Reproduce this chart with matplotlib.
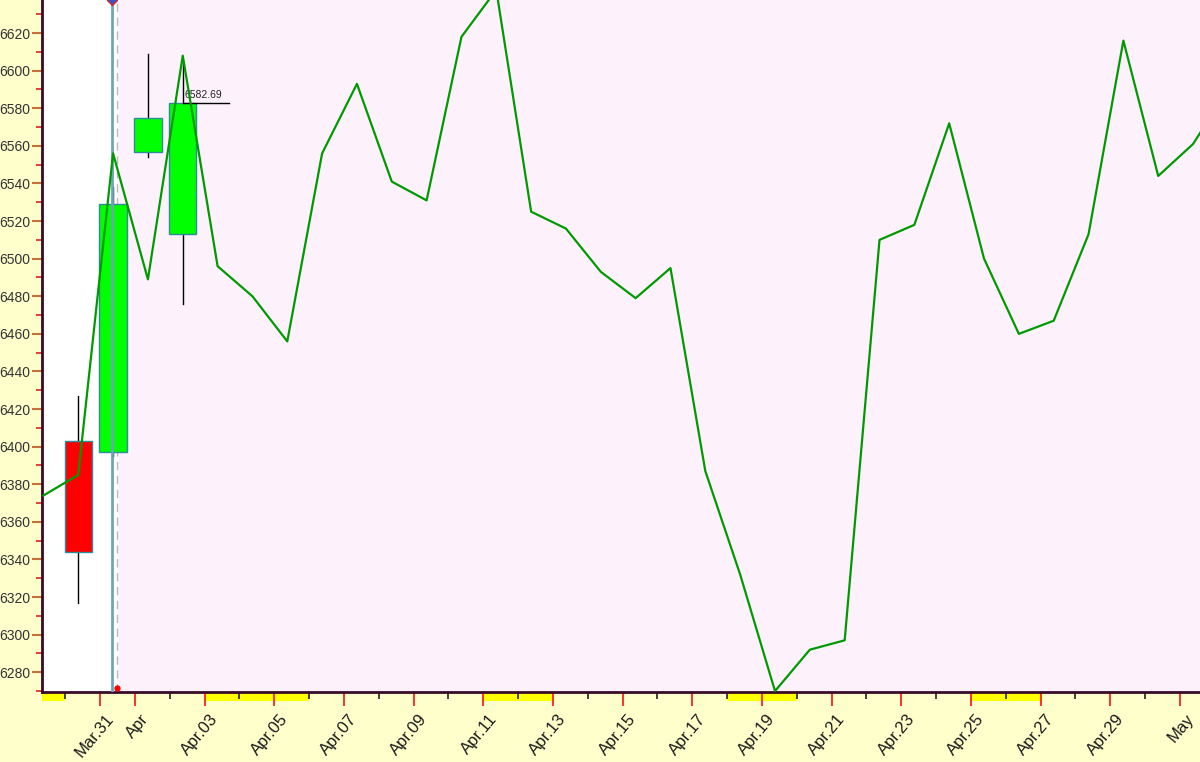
import datetime as dt
import matplotlib
matplotlib.use("Agg")
import matplotlib.pyplot as plt
import matplotlib.dates as mdates
import matplotlib.transforms as mtransforms
from matplotlib import font_manager

# cierre diario (a las 09:00) desde Mar.29 hasta May.02
fechas_linea = [dt.datetime(2018, 3, 29, 9) + dt.timedelta(days=i) for i in range(35)]
valores_linea = [6374, 6385, 6556, 6489, 6608, 6496, 6480, 6456, 6556, 6593,
                 6541, 6531, 6618, 6643, 6525, 6516, 6493, 6479, 6495, 6387,
                 6332, 6270, 6292, 6297, 6510, 6518, 6572, 6500, 6460, 6467,
                 6513, 6616, 6544, 6561, 6590]

# velas
fechas_velas = [dt.datetime(2018, 3, 30, 9), dt.datetime(2018, 3, 31, 9),
                dt.datetime(2018, 4, 1, 9), dt.datetime(2018, 4, 2, 9)]
apertura = [6403, 6397, 6557, 6513]
cierre = [6344, 6529, 6575, 6582.69]
maximo = [6427, 6538, 6609, 6605]
minimo = [6317, 6395, 6554, 6476]

# tramos amarillos bajo el eje
tramos = [(dt.datetime(2018, 3, 29), dt.datetime(2018, 3, 30)),
          (dt.datetime(2018, 4, 3), dt.datetime(2018, 4, 6)),
          (dt.datetime(2018, 4, 11), dt.datetime(2018, 4, 13)),
          (dt.datetime(2018, 4, 18), dt.datetime(2018, 4, 20)),
          (dt.datetime(2018, 4, 25), dt.datetime(2018, 4, 27))]

etiquetas_x = ["Mar.31", "Apr", "Apr.03", "Apr.05", "Apr.07", "Apr.09", "Apr.11",
               "Apr.13", "Apr.15", "Apr.17", "Apr.19", "Apr.21", "Apr.23",
               "Apr.25", "Apr.27", "Apr.29", "May"]
fechas_etiquetas = [dt.datetime(2018, 3, 31), dt.datetime(2018, 4, 1)] + \
    [dt.datetime(2018, 4, d) for d in range(3, 30, 2)] + [dt.datetime(2018, 5, 1)]
naranjas = ["Mar.31", "Apr.03", "Apr.09", "Apr.13", "Apr.25", "May"]

linea_vertical = dt.datetime(2018, 3, 31, 8)
linea_punteada = dt.datetime(2018, 3, 31, 11, 45)
ultimo_precio = 6582.69

plt.rcParams['font.family'] = ['Liberation Sans', 'DejaVu Sans']

# las cifras del eje y son estrechas, si no hay fuente narrow se reduce el tamaño
nombres = {f.name for f in font_manager.fontManager.ttflist}
if 'Liberation Sans Narrow' in nombres:
    fuente_y, tam_y = 'Liberation Sans Narrow', 11
else:
    fuente_y, tam_y = 'Liberation Sans', 10

fig = plt.figure(figsize=(12, 7.62), dpi=100)
fig.patch.set_facecolor('#FFFFCC')
ax = fig.add_axes([42 / 1200, 70 / 762, 1158 / 1200, 692 / 762])
ax.set_facecolor('#FDF2FB')

x0 = dt.datetime(2018, 3, 29, 8, 2)
x1 = dt.datetime(2018, 5, 1, 13, 47)
ax.set_xlim(x0, x1)
ax.set_ylim(6269.5, 6637.6)

# zona blanca a la izquierda
ax.axvspan(x0, linea_punteada, color='white', zorder=0)

# velas
ancho = 0.78
for f, o, c, h, l in zip(fechas_velas, apertura, cierre, maximo, minimo):
    xc = mdates.date2num(f)
    ax.plot([xc, xc], [l, h], color='black', linewidth=1, zorder=2)
    color = '#00FF00' if c >= o else '#FF0000'
    ax.add_patch(plt.Rectangle((xc - ancho / 2, min(o, c)), ancho, abs(c - o),
                               facecolor=color, edgecolor='#2E8B9A', linewidth=1, zorder=3))

# marca del ultimo precio
xu = mdates.date2num(fechas_velas[-1])
ax.plot([xu, xu + 1.32], [ultimo_precio, ultimo_precio], color='black', linewidth=1, zorder=4)
ax.text(xu + 0.05, ultimo_precio + 1.5, f"{ultimo_precio:.2f}", fontsize=7.5, color='#222222',
        ha='left', va='bottom', zorder=4)

# lineas verticales
ax.axvline(linea_vertical, color='#6FA3B5', linewidth=2, zorder=5)
ax.axvline(linea_punteada, color='#BBBBBB', linewidth=1, linestyle=(0, (6, 4)), zorder=1)
ax.plot([linea_punteada], [6271.5], marker='o', markersize=3.5, color='red', zorder=6, clip_on=False)
ax.plot([linea_vertical], [6637.6], marker='D', markersize=5, color='#3355CC',
        markeredgecolor='#DD2222', zorder=6, clip_on=False)

# linea principal
ax.plot(fechas_linea, valores_linea, color='#009A00', linewidth=1.6, zorder=5)

# tramos amarillos
trans = mtransforms.blended_transform_factory(ax.transData, ax.transAxes)
for a, b in tramos:
    ax.add_patch(plt.Rectangle((mdates.date2num(max(a, x0)), -0.0125),
                               mdates.date2num(b) - mdates.date2num(max(a, x0)), 0.0125,
                               transform=trans, facecolor='#FFFF00', edgecolor='none',
                               clip_on=False, zorder=1))

# eje y
ax.set_yticks(range(6280, 6621, 20))
ax.set_yticks(range(6270, 6631, 10), minor=True)
ax.tick_params(axis='y', which='major', length=7, width=1.5, color='#C8703A',
               labelsize=tam_y, labelcolor='#333333', pad=1.5)
ax.tick_params(axis='y', which='minor', length=4, width=1.2, color='#E02020')
for lab in ax.get_yticklabels():
    lab.set_fontfamily(fuente_y)

# eje x
ax.set_xticks([mdates.date2num(f) for f in fechas_etiquetas])
ax.set_xticklabels(etiquetas_x, rotation=50, ha='right', rotation_mode='anchor',
                   fontsize=12, color='#1A1A1A')
menores = [mdates.date2num(dt.datetime(2018, 3, 30) + dt.timedelta(days=i)) for i in range(33)]
menores = [m for m in menores if m not in ax.get_xticks()]
ax.set_xticks(menores, minor=True)
ax.tick_params(axis='x', which='major', length=10, width=1.3, color='#FF2020', pad=3)
ax.tick_params(axis='x', which='minor', length=5, width=1.3, color='#333333')
for t, lab in zip(ax.xaxis.get_major_ticks(), etiquetas_x):
    if lab in naranjas:
        t.tick1line.set_color('#E8803A')
    t.label1.set_transform(t.label1.get_transform() +
                           mtransforms.ScaledTranslation(5 / 100, -1 / 100, fig.dpi_scale_trans))

for s in ['top', 'right']:
    ax.spines[s].set_visible(False)
ax.spines['left'].set_color('#3A0A2A')
ax.spines['left'].set_linewidth(2)
ax.spines['bottom'].set_color('#3A0A2A')
ax.spines['bottom'].set_linewidth(2)

fig.savefig('out.png', dpi=100, facecolor=fig.get_facecolor())
